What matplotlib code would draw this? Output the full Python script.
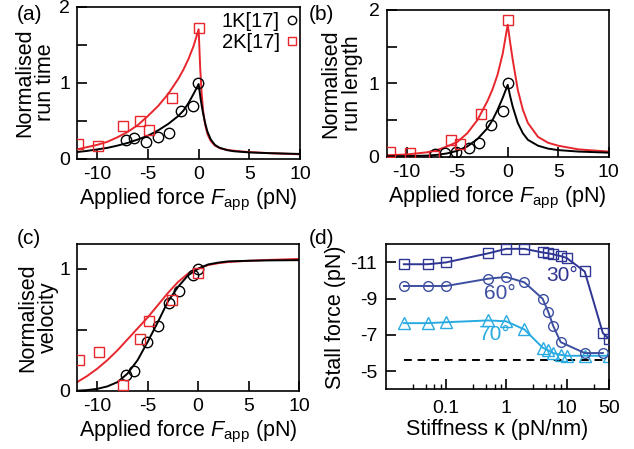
import matplotlib
matplotlib.use("Agg")
import matplotlib.pyplot as plt
from matplotlib.ticker import FixedLocator, NullFormatter

plt.rcParams['font.family'] = ['Liberation Sans', 'DejaVu Sans']
plt.rcParams['mathtext.fontset'] = 'custom'
plt.rcParams['mathtext.rm'] = 'Liberation Sans'
plt.rcParams['mathtext.it'] = 'Liberation Sans:italic'
plt.rcParams['font.size'] = 14

RED = '#e8262d'
C30 = '#2e3592'
C60 = '#3c4fa0'
C70 = '#29abe2'

# ---------------- (a) run time ----------------
a_1k_F = [-7.2, -6.4, -5.15, -4.0, -2.9, -1.75, -0.55, -0.05]
a_1k_v = [0.25, 0.27, 0.215, 0.28, 0.33, 0.63, 0.69, 1.0]
a_2k_F = [-11.9, -9.9, -7.5, -5.8, -4.85, -2.65, 0.0]
a_2k_v = [0.19, 0.17, 0.43, 0.49, 0.38, 0.79, 1.72]
a_1k_curveF = [-12, -11, -10, -9, -8, -7, -6, -5, -4, -3, -2, -1.5, -1, -0.5, 0,
               0.2, 0.4, 0.6, 0.85, 1.2, 1.6, 2.0, 2.8, 3.5, 5, 7, 10]
a_1k_curve = [0.085, 0.10, 0.12, 0.14, 0.17, 0.205, 0.25, 0.30, 0.37, 0.455, 0.56, 0.63,
              0.73, 0.85, 0.98, 0.78, 0.62, 0.49, 0.36, 0.25, 0.18, 0.145, 0.11, 0.095,
              0.08, 0.07, 0.06]
a_2k_curveF = [-12, -11, -10, -9, -8, -7, -6, -5, -4, -3, -2, -1.5, -1, -0.5, 0,
               0.15, 0.3, 0.45, 0.65, 0.9, 1.2, 1.6, 2.2, 3, 4, 5, 7, 10]
a_2k_curve = [0.12, 0.15, 0.18, 0.22, 0.28, 0.35, 0.44, 0.56, 0.69, 0.85, 1.05, 1.17,
              1.31, 1.48, 1.70, 1.2, 0.85, 0.62, 0.44, 0.31, 0.23, 0.17, 0.13, 0.11,
              0.095, 0.085, 0.07, 0.055]

# ---------------- (b) run length ----------------
b_1k_F = [-7.15, -6.25, -5.1, -3.85, -2.8, -1.7, -0.5, 0.0]
b_1k_v = [0.03, 0.045, 0.07, 0.12, 0.19, 0.43, 0.62, 1.0]
b_2k_F = [-11.7, -9.7, -7.25, -5.6, -4.7, -2.65, 0.0]
b_2k_v = [0.07, 0.055, 0.015, 0.23, 0.17, 0.58, 1.86]
b_1k_curveF = [-12, -10, -8, -7, -6, -5, -4, -3, -2, -1.5, -1, -0.5, 0,
               0.25, 0.5, 1, 1.5, 2, 3, 4, 5, 7, 10]
b_1k_curve = [0.005, 0.008, 0.015, 0.025, 0.045, 0.08, 0.14, 0.24, 0.39, 0.5, 0.64,
              0.8, 0.98, 0.82, 0.68, 0.46, 0.32, 0.23, 0.15, 0.11, 0.09, 0.07, 0.055]
b_2k_curveF = [-12, -10, -8, -7, -6, -5, -4, -3, -2, -1.5, -1, -0.5, 0,
               0.25, 0.5, 1, 1.5, 2, 3, 4, 5, 7, 10]
b_2k_curve = [0.02, 0.03, 0.06, 0.09, 0.14, 0.2, 0.32, 0.5, 0.76, 0.92, 1.12, 1.4, 1.80,
              1.55, 1.32, 0.91, 0.64, 0.46, 0.27, 0.19, 0.15, 0.1, 0.07]

# ---------------- (c) velocity ----------------
c_1k_F = [-7.15, -6.35, -5.1, -3.95, -2.85, -1.85, -0.55, 0.0]
c_1k_v = [0.13, 0.16, 0.40, 0.53, 0.72, 0.82, 0.95, 1.0]
c_2k_F = [-11.85, -9.85, -7.45, -5.75, -4.85, -2.6, 0.0]
c_2k_v = [0.25, 0.32, 0.045, 0.42, 0.57, 0.74, 0.965]
c_1k_curveF = [-12, -11, -10, -9, -8, -7, -6, -5, -4, -3, -2, -1, 0, 1, 2, 3, 5, 7, 10]
c_1k_curve = [0.0, 0.005, 0.015, 0.035, 0.07, 0.14, 0.25, 0.40, 0.56, 0.73, 0.85,
              0.945, 1.0, 1.035, 1.05, 1.06, 1.065, 1.068, 1.07]
c_2k_curveF = [-12, -11, -10, -9, -8, -7, -6, -5, -4, -3, -2, -1, 0, 1, 2, 3, 5, 7, 10]
c_2k_curve = [0.07, 0.12, 0.18, 0.25, 0.33, 0.42, 0.51, 0.60, 0.70, 0.80, 0.89,
              0.96, 1.0, 1.03, 1.045, 1.055, 1.065, 1.072, 1.08]

# ---------------- (d) stall force ----------------
d30_k = [0.02, 0.05, 0.1, 0.5, 1, 2, 4, 5, 6, 8, 10, 20, 40, 50]
d30_F = [-10.9, -10.9, -11.0, -11.5, -11.75, -11.75, -11.55, -11.5, -11.45, -11.35,
         -11.25, -10.5, -7.1, -6.8]
d60_k = [0.02, 0.05, 0.1, 0.5, 1, 2, 4, 5, 6, 8, 20, 40]
d60_F = [-9.7, -9.7, -9.7, -10.1, -10.2, -9.9, -9.0, -8.25, -7.5, -6.6, -6.0, -6.0]
d70_k = [0.02, 0.05, 0.1, 0.5, 1, 2, 4, 5, 6, 8, 10, 20, 50]
d70_F = [-7.65, -7.65, -7.7, -7.8, -7.75, -7.3, -6.3, -6.15, -6.0, -5.9, -5.85, -5.85, -5.85]
d_dash_k = [0.02, 50]
d_dash_F = [-5.6, -5.6]
d_minor = [0.028, 0.046, 0.064, 0.083, 0.28, 0.46, 0.64, 0.82, 2.8, 4.6, 6.3, 8.0, 28]

xticks_F = [-10, -5, 0, 5, 10]

fig = plt.figure(figsize=(6.34, 4.49), dpi=100)
W, H = 634.0, 449.0

def mk(l, r, t, b):
    return fig.add_axes([l / W, 1 - b / H, (r - l) / W, (b - t) / H])

axa = mk(77, 300, 6.5, 158.5)
axb = mk(386.5, 608.7, 10, 156.7)
axc = mk(77, 299, 244.3, 390.7)
axd = mk(385.7, 608.7, 244.3, 389.3)

TICK_FS = 14
LAB_FS = 15.5

def style(ax, xpad=5.5, ypad=5):
    for s in ax.spines.values():
        s.set_linewidth(1.2)
    ax.tick_params(direction='in', length=7, width=1.2, labelsize=TICK_FS,
                   top=False, right=False)
    ax.tick_params(axis='x', pad=xpad)
    ax.tick_params(axis='y', pad=ypad)
    ax.tick_params(which='minor', direction='in', length=3.8, width=1.0,
                   top=False, right=False)

lw = 1.4
ms = 7.5
xlab = r'Applied force $F_{\mathrm{app}}$ (pN)'

for ax, d in [(axa, (a_1k_F, a_1k_v, a_2k_F, a_2k_v, a_1k_curveF, a_1k_curve, a_2k_curveF, a_2k_curve)),
              (axb, (b_1k_F, b_1k_v, b_2k_F, b_2k_v, b_1k_curveF, b_1k_curve, b_2k_curveF, b_2k_curve)),
              (axc, (c_1k_F, c_1k_v, c_2k_F, c_2k_v, c_1k_curveF, c_1k_curve, c_2k_curveF, c_2k_curve))]:
    f1, v1, f2, v2, cf1, cv1, cf2, cv2 = d
    ax.plot(cf2, cv2, color=RED, lw=lw, zorder=2)
    ax.plot(cf1, cv1, color='black', lw=lw, zorder=3)
    ax.plot(f1, v1, 'o', ms=ms, mfc='none', mec='black', mew=1.0, zorder=4, label='1K[17]')
    ax.plot(f2, v2, 's', ms=ms, mfc='none', mec=RED, mew=1.0, zorder=4, label='2K[17]')
    ax.set_xlim(-12, 10)
    ax.set_xticks(xticks_F)
    ax.set_xticklabels([str(t) for t in xticks_F])
    ax.set_xlabel(xlab, fontsize=LAB_FS, labelpad=2.5)
    style(ax)

for ax in (axa, axb):
    ax.set_ylim(0, 2)
    ax.set_yticks([0, 0.5, 1, 1.5, 2])
    ax.set_yticklabels(['0', '', '1', '', '2'])
axc.set_ylim(0, 1.2)
axc.set_yticks([0, 0.5, 1])
axc.set_yticklabels(['0', '', '1'])

axa.set_ylabel('Normalised\nrun time', fontsize=LAB_FS, linespacing=1.0)
axb.set_ylabel('Normalised\nrun length', fontsize=LAB_FS, linespacing=1.0)
axc.set_ylabel('Normalised\nvelocity', fontsize=LAB_FS, linespacing=1.0)
axa.yaxis.set_label_coords(-0.095, 0.5)
axc.yaxis.set_label_coords(-0.082, 0.5)
axb.yaxis.set_label_coords(-0.108, 0.5)

leg = axa.legend(loc='upper right', bbox_to_anchor=(0.985, 0.966), frameon=False,
                 markerfirst=False, fontsize=14.5, handlelength=0.5, handletextpad=0.33,
                 borderaxespad=0.0, labelspacing=0.12, borderpad=0.0)
for h in leg.legend_handles:
    h.set_markersize(6)

# (d)
axd.plot(d_dash_k, d_dash_F, '--', color='black', lw=1.4, dashes=(4, 3), zorder=1)
axd.plot(d70_k, d70_F, '-^', color=C70, lw=lw, ms=8, mfc='none', mec=C70, mew=1.0, zorder=2)
axd.plot(d60_k, d60_F, '-o', color=C60, lw=lw, ms=7, mfc='none', mec=C60, mew=1.0, zorder=3)
axd.plot(d30_k, d30_F, '-s', color=C30, lw=lw, ms=7, mfc='none', mec=C30, mew=1.0, zorder=4)
axd.set_xscale('log')
axd.set_xlim(0.01, 50)
axd.set_ylim(-4, -12)
axd.set_xticks([0.1, 1, 10, 50])
axd.set_xticklabels(['0.1', '1', '10', '50'])
axd.xaxis.set_minor_locator(FixedLocator(d_minor))
axd.xaxis.set_minor_formatter(NullFormatter())
axd.set_yticks([-11, -9, -7, -5])
axd.set_yticklabels(['-11', '-9', '-7', '-5'])
style(axd, xpad=8, ypad=6)
axd.set_xlabel('Stiffness κ (pN/nm)', fontsize=LAB_FS, labelpad=1)
axd.set_ylabel('Stall force (pN)', fontsize=LAB_FS)
axd.yaxis.set_label_coords(-0.18, 0.5)
axd.text(8.5, -10.3, '30°', color=C30, fontsize=15, ha='center', va='center')
axd.text(0.78, -9.3, '60°', color=C60, fontsize=15, ha='center', va='center')
axd.text(0.65, -7.0, '70°', color=C70, fontsize=15, ha='center', va='center')

# panel labels
for x, y, s in [(17, 14, '(a)'), (309, 14, '(b)'), (17, 238, '(c)'), (309, 238, '(d)')]:
    fig.text(x / W, 1 - y / H, s, fontsize=15, ha='left', va='center')

fig.savefig('out.png', dpi=100)
